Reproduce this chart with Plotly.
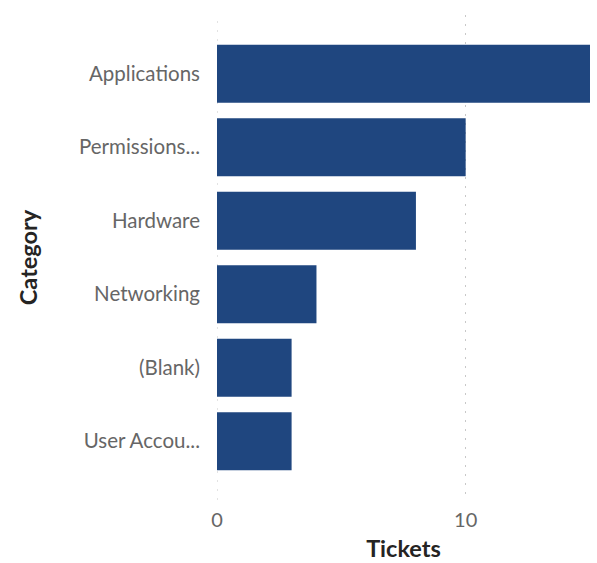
import plotly.graph_objects as go

categories = ["Applications", "Permissions...", "Hardware", "Networking", "(Blank)", "User Accou..."]
tickets = [15, 10, 8, 4, 3, 3]
x_tickvals = [0, 10]
x_ticktext = ["0", "10"]

BAR_COLOR = "#1F467F"
TICK_COLOR = "#666666"
TITLE_COLOR = "#252423"
GRID_COLOR = "#C8C8C8"
GRID_DASH = "2px,7px"

fig = go.Figure(
    go.Bar(
        x=tickets,
        y=categories,
        orientation="h",
        marker=dict(color=BAR_COLOR, line=dict(width=0)),
        hoverinfo="x+y",
    )
)

# gridline at the zero position (plotly omits grid lines on the range edge)
fig.add_shape(
    type="line",
    xref="x", yref="paper",
    x0=x_tickvals[0], x1=x_tickvals[0], y0=0, y1=1,
    line=dict(color=GRID_COLOR, width=1, dash=GRID_DASH),
    layer="below",
)

fig.update_layout(
    width=597,
    height=563,
    margin=dict(l=217, r=7, t=15, b=63),
    paper_bgcolor="white",
    plot_bgcolor="white",
    bargap=0.21,
    showlegend=False,
    font=dict(family="Lato, 'Open Sans', sans-serif", color=TICK_COLOR),
)

fig.update_xaxes(
    range=[0, 15],
    tickvals=x_tickvals,
    ticktext=x_ticktext,
    showgrid=True,
    gridcolor=GRID_COLOR,
    griddash=GRID_DASH,
    gridwidth=1,
    zeroline=False,
    showline=False,
    ticks="",
    tickfont=dict(size=20, color=TICK_COLOR),
    ticklabelstandoff=6,
    title=dict(
        text="<b>Tickets</b>",
        font=dict(size=23.5, color=TITLE_COLOR),
        standoff=10,
    ),
)

fig.update_yaxes(
    categoryorder="array",
    categoryarray=categories,
    range=[5.8, -0.8],
    showgrid=False,
    zeroline=False,
    showline=False,
    ticks="",
    tickfont=dict(size=20.5, color=TICK_COLOR),
    ticklabelstandoff=16,
    title=dict(
        text="<b>Category</b>",
        font=dict(size=23.5, color=TITLE_COLOR),
        standoff=34,
    ),
)

fig.write_html("out.html")
